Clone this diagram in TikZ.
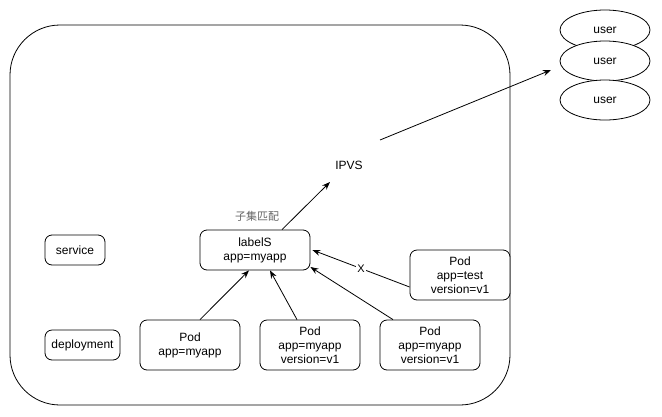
\documentclass[tikz,border=0pt]{standalone}
\usepackage{fontspec}
\setmainfont{Liberation Sans}
\newfontfamily\cjk{Noto Sans CJK SC}
\usetikzlibrary{arrows.meta,shapes.geometric}
\begin{document}
\begin{tikzpicture}[x=1pt,y=-1pt,
  every node/.style={font=\fontsize{12}{14}\selectfont, inner sep=0pt, align=center},
  box/.style={draw, line width=0.8pt, rounded corners=7pt, fill=white},
  usr/.style={draw, ellipse, line width=0.8pt, fill=white, minimum width=90pt, minimum height=40pt},
  conn/.style={line width=0.8pt, -{Stealth[length=8pt,width=6pt]}}]
\useasboundingbox (0,0) rectangle (662,416);
\node[draw, line width=0.8pt, rounded corners=50pt, minimum width=500pt, minimum height=380pt] (cluster) at (260,215) {};
% users
\node[usr] (u1) at (605,30) {user};
\node[usr] (u2) at (605,61) {user};
\node[usr] (u3) at (605,100) {user};
% boxes
\node[box, minimum width=60pt, minimum height=30pt] (service) at (75,250) {service};
\node[box, minimum width=75pt, minimum height=30pt] (deploy) at (82.5,345) {deployment};
\node[box, minimum width=110pt, minimum height=40pt] (labels) at (255,250) {labelS\\app=myapp};
\node[box, minimum width=100pt, minimum height=50pt] (pod1) at (190,345) {Pod\\app=myapp};
\node[box, minimum width=100pt, minimum height=50pt] (pod2) at (310,345) {Pod\\app=myapp\\version=v1};
\node[box, minimum width=100pt, minimum height=50pt] (pod3) at (430,345) {Pod\\app=myapp\\version=v1};
\node[box, minimum width=100pt, minimum height=50pt] (podt) at (460,275) {Pod\\app=test\\version=v1};
\node (ipvs) at (349,165) {IPVS};
\node[text=black!60, font=\cjk\fontsize{11}{13}\selectfont] (sub) at (257,216) {子集匹配};
\coordinate (ipvsin) at (330,182);
\coordinate (ipvsout) at (380,140);
\coordinate (userin) at (551,70);
% connectors
\draw[conn] ([xshift=27pt]labels.north) -- (ipvsin);
\draw[conn] (ipvsout) -- (userin);
\draw[conn] ([xshift=10pt]pod1.north) -- ([xshift=-6pt]labels.south);
\draw[conn] ([xshift=-13pt]pod2.north) -- ([xshift=15pt]labels.south);
\draw[conn] ([xshift=-37pt]pod3.north) -- ([yshift=-17pt]labels.east);
\draw[conn] ([yshift=-12pt]podt.west) -- node[fill=white, inner sep=1pt, font=\fontsize{11}{13}\selectfont] {X} ([yshift=0pt,xshift=2pt]labels.east);
\end{tikzpicture}
\end{document}
